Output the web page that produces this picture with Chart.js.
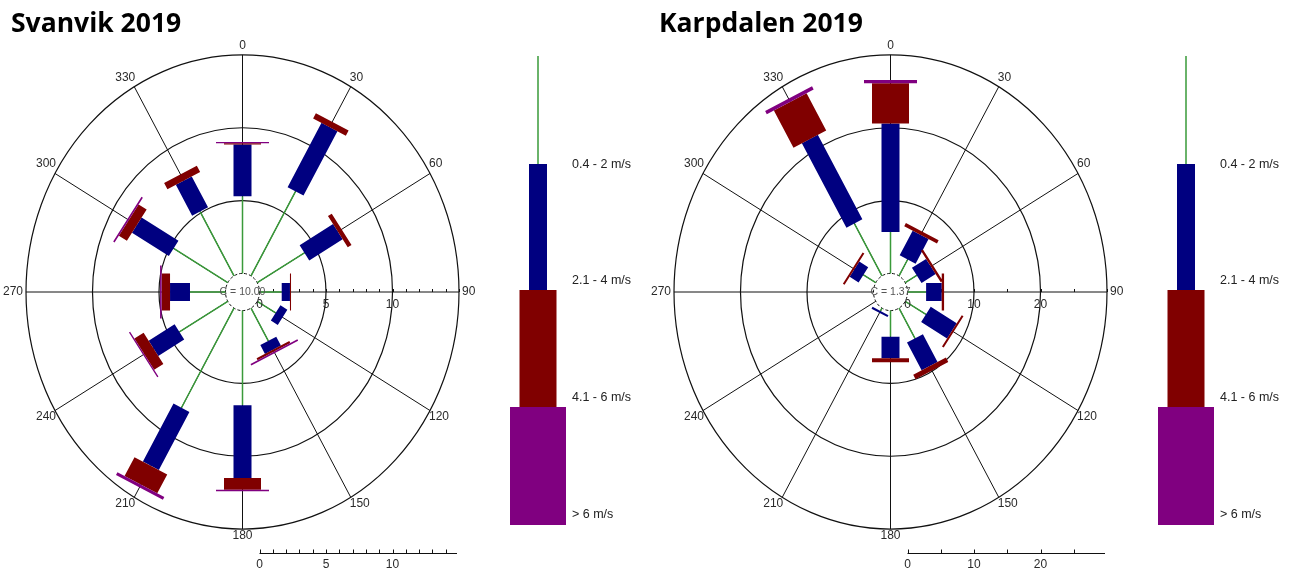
<!DOCTYPE html>
<html>
<head>
<meta charset="utf-8">
<script src="https://cdn.jsdelivr.net/npm/chart.js@4.4.1/dist/chart.umd.min.js"></script>
<style>
html,body{margin:0;padding:0;background:#fff;width:1296px;height:572px;overflow:hidden;}
.panel{position:absolute;top:0;width:648px;height:572px;}
.panel canvas{position:absolute;left:0;top:0;}
.title{position:absolute;left:11px;top:9px;font:700 26.5px/26px "Open Sans",sans-serif;color:#000;white-space:nowrap;}
</style>
</head>
<body>
<div class="panel" style="left:0"><canvas id="c1" width="648" height="572"></canvas><div class="title">Svanvik 2019</div></div>
<div class="panel" style="left:648px"><canvas id="c2" width="648" height="572"></canvas><div class="title">Karpdalen 2019</div></div>
<script>
// ---------- data ----------
const directions = [0, 30, 60, 90, 120, 150, 180, 210, 240, 270, 300, 330];
const speedClasses = ['0.4 - 2 m/s', '2.1 - 4 m/s', '4.1 - 6 m/s', '> 6 m/s'];

// Svanvik 2019, frequency (%) per direction and speed class
const svanvikCalm = 10.00;
const svanvikClass1 = [5.3, 6.7, 4.1, 1.67, 1.6, 2.6, 6.5, 7.9, 4.2, 2.67, 4.7, 5.1];
const svanvikClass2 = [3.55, 5.1, 2.9, 0.62, 0.6, 0.7, 5.0, 4.6, 2.25, 1.5, 3.2, 2.45];
const svanvikClass3 = [0.08, 0.42, 0.33, 0.08, 0, 0.15, 0.8, 1.5, 0.8, 0.63, 0.7, 0.5];
const svanvikClass4 = [0.1, 0, 0, 0, 0, 0.12, 0.1, 0.22, 0.1, 0.12, 0.12, 0];
const svanvikAxisTicks = [0, 5, 10];

// Karpdalen 2019
const karpdalenCalm = 1.37;
const karpdalenClass1 = [5.7, 2.6, 2.0, 2.8, 3.6, 4.8, 3.6, 0.45, 0, 0, 2.15, 8.3];
const karpdalenClass2 = [14.9, 3.9, 2.45, 2.35, 4.5, 4.4, 2.95, 0.3, 0, 0, 1.55, 13.4];
const karpdalenClass3 = [5.5, 0.5, 0.35, 0.35, 0.3, 0.7, 0.55, 0, 0, 0, 0.3, 5.9];
const karpdalenClass4 = [0.45, 0, 0, 0, 0, 0, 0, 0, 0, 0, 0, 0.5];
const karpdalenAxisTicks = [0, 10, 20];

// ---------- styles / layout ----------
const classColors = ['#3a9a3a', '#000080', '#800000', '#800080'];
const classWidths = [1.5, 18, 37, 53];
const legendWidths = [1.5, 18, 37, 56];
const W = 648, H = 572;
const centerX = 242.5, centerY = 292;
const ringPx = 66.5, calmPx = 17, yStretch = 1.095;
const labelFont = '12px "Liberation Sans", Arial, sans-serif';

function barDatasets(classes, c0) {
  const out = classes.map(() => []);
  directions.forEach((d, j) => {
    const t = d * Math.PI / 180, s = Math.sin(t), c = Math.cos(t);
    let cum = c0;
    classes.forEach((arr, i) => {
      const v = arr[j];
      if (v > 0) {
        out[i].push({x: cum * s, y: cum * c}, {x: (cum + v) * s, y: (cum + v) * c}, {x: null, y: null});
      }
      cum += v;
    });
  });
  return out.map((data, i) => ({
    label: speedClasses[i],
    data,
    showLine: true,
    spanGaps: false,
    borderColor: classColors[i],
    backgroundColor: classColors[i],
    borderWidth: classWidths[i],
    borderCapStyle: 'butt',
    pointRadius: 0,
    pointHoverRadius: 0,
    fill: false,
    tension: 0,
    order: 10 - i
  }));
}

const roseDecor = {
  id: 'roseDecor',
  beforeDatasetsDraw(chart, args, o) {
    const {ctx} = chart, x = chart.scales.x, y = chart.scales.y;
    const c0 = o.calmOffset;
    const cx = x.getPixelForValue(0), cy = y.getPixelForValue(0);
    const rx = v => x.getPixelForValue(c0 + v) - cx;
    const ry = v => cy - y.getPixelForValue(c0 + v);
    const outer = o.rings[o.rings.length - 1];
    ctx.save();
    ctx.strokeStyle = '#111';
    ctx.lineWidth = 1.2;
    o.rings.forEach(v => {
      ctx.beginPath(); ctx.ellipse(cx, cy, rx(v), ry(v), 0, 0, 2 * Math.PI); ctx.stroke();
    });
    ctx.lineWidth = 1;
    directions.forEach(d => {
      const t = d * Math.PI / 180, s = Math.sin(t), c = Math.cos(t);
      ctx.beginPath();
      ctx.moveTo(cx + rx(0) * s, cy - ry(0) * c);
      ctx.lineTo(cx + rx(outer) * s, cy - ry(outer) * c);
      ctx.stroke();
    });
    for (let v = o.minorStep; v < outer + 0.01; v += o.minorStep) {
      const px = Math.round(cx + rx(v)) + 0.5;
      ctx.beginPath(); ctx.moveTo(px, cy); ctx.lineTo(px, cy - 3); ctx.stroke();
    }
    ctx.fillStyle = '#fff';
    ctx.beginPath(); ctx.ellipse(cx, cy, rx(0), ry(0), 0, 0, 2 * Math.PI); ctx.fill();
    ctx.setLineDash([3, 2]);
    ctx.beginPath(); ctx.ellipse(cx, cy, rx(0), ry(0), 0, 0, 2 * Math.PI); ctx.stroke();
    ctx.setLineDash([]);
    ctx.restore();
  },
  afterDatasetsDraw(chart, args, o) {
    const {ctx} = chart, x = chart.scales.x, y = chart.scales.y;
    const c0 = o.calmOffset;
    const cx = x.getPixelForValue(0), cy = y.getPixelForValue(0);
    const rx = v => x.getPixelForValue(c0 + v) - cx;
    const ry = v => cy - y.getPixelForValue(c0 + v);
    const outer = o.rings[o.rings.length - 1];
    ctx.save();
    ctx.font = labelFont;
    ctx.fillStyle = '#2a2a2a';
    ctx.textAlign = 'center';
    ctx.textBaseline = 'middle';
    directions.forEach(d => {
      const t = d * Math.PI / 180, s = Math.sin(t), c = Math.cos(t);
      const px = cx + rx(outer) * s, py = cy - ry(outer) * c;
      const txt = String(d), w = ctx.measureText(txt).width;
      let dx, dy;
      if (Math.abs(s) < 0.1) { dx = 0; dy = c > 0 ? -9.5 : 7; }
      else if (Math.abs(c) < 0.1) { dx = Math.sign(s) * (w / 2 + 3); dy = 0; }
      else { dx = Math.sign(s) * (w / 2 - 1); dy = c > 0 ? -9.5 : 6; }
      ctx.fillText(txt, px + dx, py + dy);
    });
    // radial axis labels along east spoke
    o.axisTicks.forEach(v => ctx.fillText(String(v), cx + rx(v), cy + 13));
    // calm text
    ctx.font = '10.5px "Liberation Sans", Arial, sans-serif';
    ctx.fillStyle = '#555';
    ctx.fillText('C = ' + o.calm.toFixed(2), cx, cy);
    // scale bar
    const sy = 553.5;
    ctx.strokeStyle = '#111'; ctx.lineWidth = 1;
    ctx.beginPath(); ctx.moveTo(cx + rx(0), sy); ctx.lineTo(cx + rx(outer) - 2, sy); ctx.stroke();
    for (let v = 0; v < outer; v += o.minorStep) {
      const px = Math.round(cx + rx(v)) + 0.5;
      ctx.beginPath(); ctx.moveTo(px, sy); ctx.lineTo(px, sy - 4); ctx.stroke();
    }
    ctx.font = labelFont; ctx.fillStyle = '#2a2a2a';
    o.axisTicks.forEach(v => ctx.fillText(String(v), cx + rx(v), 565));
    // legend
    const lx = 538, lTops = [56, 164, 290, 407], lBots = [164, 290, 407, 525], lLabY = [165, 281, 398, 515];
    classColors.forEach((col, i) => {
      ctx.fillStyle = col;
      ctx.fillRect(lx - legendWidths[i] / 2, lTops[i], legendWidths[i], lBots[i] - lTops[i]);
    });
    ctx.fillStyle = '#222';
    ctx.textAlign = 'left';
    ctx.font = '12.5px "Liberation Sans", Arial, sans-serif';
    speedClasses.forEach((t, i) => ctx.fillText(t, 572, lLabY[i]));
    ctx.restore();
  }
};

function makeRose(canvasId, classes, calm, ringStep, minorStep, axisTicks) {
  const kx = ringPx / ringStep, ky = kx * yStretch;
  const c0 = calmPx / kx;
  new Chart(document.getElementById(canvasId), {
    type: 'scatter',
    data: {datasets: barDatasets(classes, c0)},
    options: {
      responsive: false,
      animation: false,
      devicePixelRatio: 1,
      events: [],
      layout: {padding: 0},
      scales: {
        x: {type: 'linear', display: false, min: -centerX / kx, max: (W - centerX) / kx},
        y: {type: 'linear', display: false, min: -(H - centerY) / ky, max: centerY / ky}
      },
      plugins: {
        legend: {display: false},
        tooltip: {enabled: false},
        roseDecor: {
          calmOffset: c0, calm,
          rings: [ringStep, 2 * ringStep, 3 * ringStep],
          minorStep, axisTicks
        }
      }
    },
    plugins: [roseDecor]
  });
}

makeRose('c1', [svanvikClass1, svanvikClass2, svanvikClass3, svanvikClass4], svanvikCalm, 5, 1, svanvikAxisTicks);
makeRose('c2', [karpdalenClass1, karpdalenClass2, karpdalenClass3, karpdalenClass4], karpdalenCalm, 10, 5, karpdalenAxisTicks);
</script>
</body>
</html>
